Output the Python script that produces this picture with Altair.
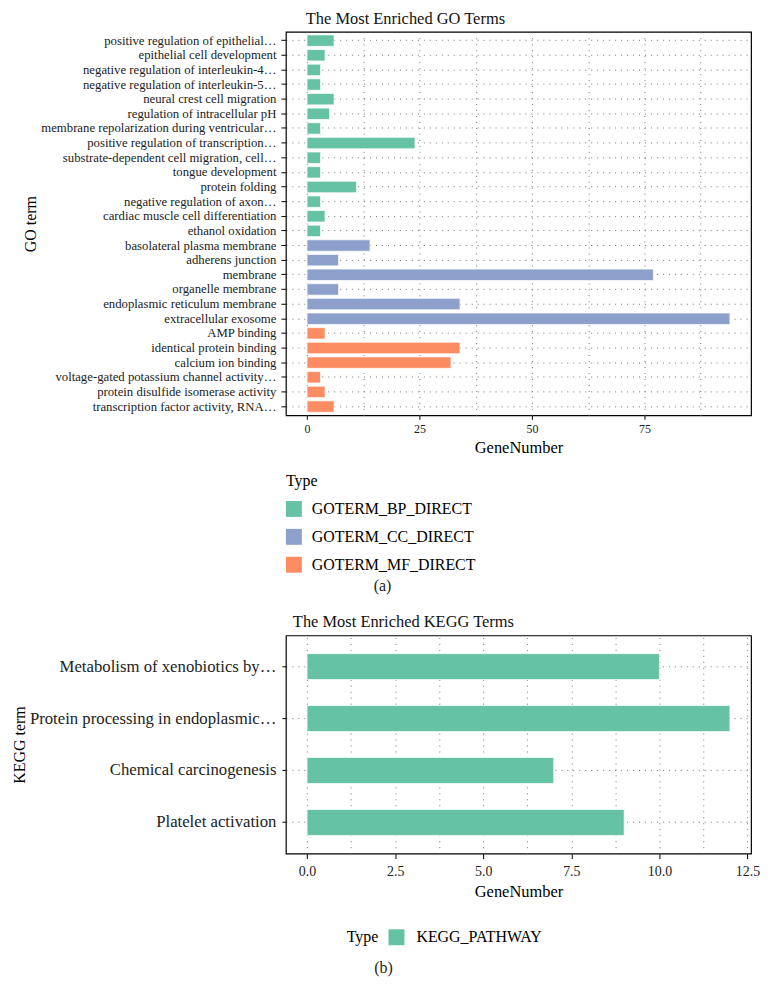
import altair as alt
import pandas as pd

FONT = "Liberation Serif"

# ---------------- data ----------------
go_terms = [
    "positive regulation of epithelial…",
    "epithelial cell development",
    "negative regulation of interleukin-4…",
    "negative regulation of interleukin-5…",
    "neural crest cell migration",
    "regulation of intracellular pH",
    "membrane repolarization during ventricular…",
    "positive regulation of transcription…",
    "substrate-dependent cell migration, cell…",
    "tongue development",
    "protein folding",
    "negative regulation of axon…",
    "cardiac muscle cell differentiation",
    "ethanol oxidation",
    "basolateral plasma membrane",
    "adherens junction",
    "membrane",
    "organelle membrane",
    "endoplasmic reticulum membrane",
    "extracellular exosome",
    "AMP binding",
    "identical protein binding",
    "calcium ion binding",
    "voltage-gated potassium channel activity…",
    "protein disulfide isomerase activity",
    "transcription factor activity, RNA…",
]
go_counts = [6, 4, 3, 3, 6, 5, 3, 24, 3, 3, 11, 3, 4, 3,
             14, 7, 77, 7, 34, 94,
             4, 34, 32, 3, 4, 6]
go_types = (["GOTERM_BP_DIRECT"] * 14 + ["GOTERM_CC_DIRECT"] * 6
            + ["GOTERM_MF_DIRECT"] * 6)
go_type_levels = ["GOTERM_BP_DIRECT", "GOTERM_CC_DIRECT", "GOTERM_MF_DIRECT"]
go_type_colors = ["#66C2A5", "#8DA0CB", "#FC8D62"]
go_x_ticks = [0, 12.5, 25, 37.5, 50, 62.5, 75, 87.5]

kegg_terms = [
    "Metabolism of xenobiotics by…",
    "Protein processing in endoplasmic…",
    "Chemical carcinogenesis",
    "Platelet activation",
]
kegg_counts = [10, 12, 7, 9]
kegg_types = ["KEGG_PATHWAY"] * 4
kegg_x_ticks = [0, 1.25, 2.5, 3.75, 5, 6.25, 7.5, 8.75, 10, 11.25, 12.5]

go_df = pd.DataFrame({"term": go_terms, "n": go_counts, "Type": go_types})
kegg_df = pd.DataFrame({"term": kegg_terms, "n": kegg_counts, "Type": kegg_types})

W = 467
GO_H = 385
KEGG_H = 219
GRID = dict(grid=True, gridColor="#666666", gridDash=[1, 5], gridWidth=0.9)

# ---------------- GO chart ----------------
go_bars = alt.Chart(go_df).mark_bar(stroke="white", strokeWidth=0.7).encode(
    y=alt.Y("term:N", sort=go_terms,
            scale=alt.Scale(paddingInner=0.22, paddingOuter=0.21),
            axis=alt.Axis(title="GO term", labelFontSize=12.8, labelColor="#222",
                          labelLimit=400,
                          tickSize=5, tickColor="black", labelPadding=5,
                          titleFontSize=16, titleFontWeight="normal",
                          titleX=-256, titleY=GO_H / 2, titleBaseline="middle",
                          domain=False, **GRID)),
    x=alt.X("n:Q",
            scale=alt.Scale(domain=[-4.7, 98.7], nice=False, zero=False),
            axis=alt.Axis(title="GeneNumber", values=go_x_ticks,
                          labelExpr="datum.value % 25 == 0 ? datum.label : ''",
                          tickOpacity={"condition": {"test": "datum.value % 25 == 0", "value": 1}, "value": 0},
                          tickSize=4, tickColor="black", labelPadding=4,
                          labelFontSize=12, labelColor="#222",
                          titleFontSize=16.5, titleFontWeight="normal", titlePadding=5,
                          domain=False, **GRID)),
    x2=alt.datum(0),
    color=alt.Color("Type:N",
                    scale=alt.Scale(domain=go_type_levels, range=go_type_colors),
                    legend=alt.Legend(orient="none", legendX=0, legendY=443,
                                      direction="vertical", title="Type",
                                      titleFontSize=16, titleFontWeight="normal",
                                      labelFontSize=16, labelLimit=400,
                                      symbolType="square",
                                      symbolSize=256, symbolStrokeWidth=0,
                                      symbolOpacity=1, rowPadding=12,
                                      labelOffset=10, titlePadding=12, padding=0)),
)
go_cap = alt.Chart(pd.DataFrame({"t": ["(a)"]})).mark_text(
    fontSize=16, align="center", baseline="middle", color="#222"
).encode(text="t:N", x=alt.value(97), y=alt.value(556))

go_chart = alt.layer(go_bars, go_cap).properties(
    width=W, height=GO_H,
    title=alt.TitleParams("The Most Enriched GO Terms", anchor="start", frame="group",
                          dx=20, fontSize=16.5, fontWeight="normal", offset=4,
                          color="#111"),
)

# ---------------- KEGG chart ----------------
kegg_bars = alt.Chart(kegg_df).mark_bar(stroke="white", strokeWidth=0.7).encode(
    y=alt.Y("term:N", sort=kegg_terms,
            scale=alt.Scale(paddingInner=0.5, paddingOuter=0.35),
            axis=alt.Axis(title="KEGG term", labelFontSize=16.8, labelColor="#222",
                          labelLimit=400,
                          tickSize=4, tickColor="black", labelPadding=6,
                          titleFontSize=16, titleFontWeight="normal",
                          titleX=-267, titleY=KEGG_H / 2, titleBaseline="middle",
                          domain=False, **GRID)),
    x=alt.X("n:Q",
            scale=alt.Scale(domain=[-0.6, 12.6], nice=False, zero=False),
            axis=alt.Axis(title="GeneNumber", values=kegg_x_ticks, format=".1f",
                          labelExpr="datum.value % 2.5 == 0 ? datum.label : ''",
                          tickOpacity={"condition": {"test": "datum.value % 2.5 == 0", "value": 1}, "value": 0},
                          tickSize=5, tickColor="black", labelPadding=6,
                          labelFontSize=14, labelColor="#222",
                          titleFontSize=16.5, titleFontWeight="normal", titlePadding=5,
                          domain=False, **GRID)),
    x2=alt.datum(0),
    color=alt.Color("Type:N",
                    scale=alt.Scale(domain=["KEGG_PATHWAY"], range=["#66C2A5"]),
                    legend=alt.Legend(orient="none", legendX=61, legendY=295,
                                      direction="horizontal", title="Type",
                                      titleOrient="left", titleFontSize=16,
                                      titleFontWeight="normal", labelFontSize=16,
                                      labelLimit=400,
                                      symbolType="square", symbolSize=256,
                                      symbolStrokeWidth=0, symbolOpacity=1,
                                      labelOffset=12, titlePadding=10, padding=0)),
)
kegg_cap = alt.Chart(pd.DataFrame({"t": ["(b)"]})).mark_text(
    fontSize=16, align="center", baseline="middle", color="#222"
).encode(text="t:N", x=alt.value(98), y=alt.value(334))

kegg_chart = alt.layer(kegg_bars, kegg_cap).properties(
    width=W, height=KEGG_H,
    title=alt.TitleParams("The Most Enriched KEGG Terms", anchor="start", frame="group",
                          dx=7, fontSize=16.5, fontWeight="normal", offset=5,
                          color="#111"),
)

chart = alt.vconcat(go_chart, kegg_chart, spacing=18).resolve_scale(
    color="independent", x="independent", y="independent"
).resolve_legend(color="independent").properties(
    padding={"left": 3, "top": 0, "right": 5, "bottom": 5}
).configure(font=FONT).configure_view(stroke="black", strokeWidth=1.2)

chart.save("out.html", embed_options={"renderer": "svg", "actions": False})
